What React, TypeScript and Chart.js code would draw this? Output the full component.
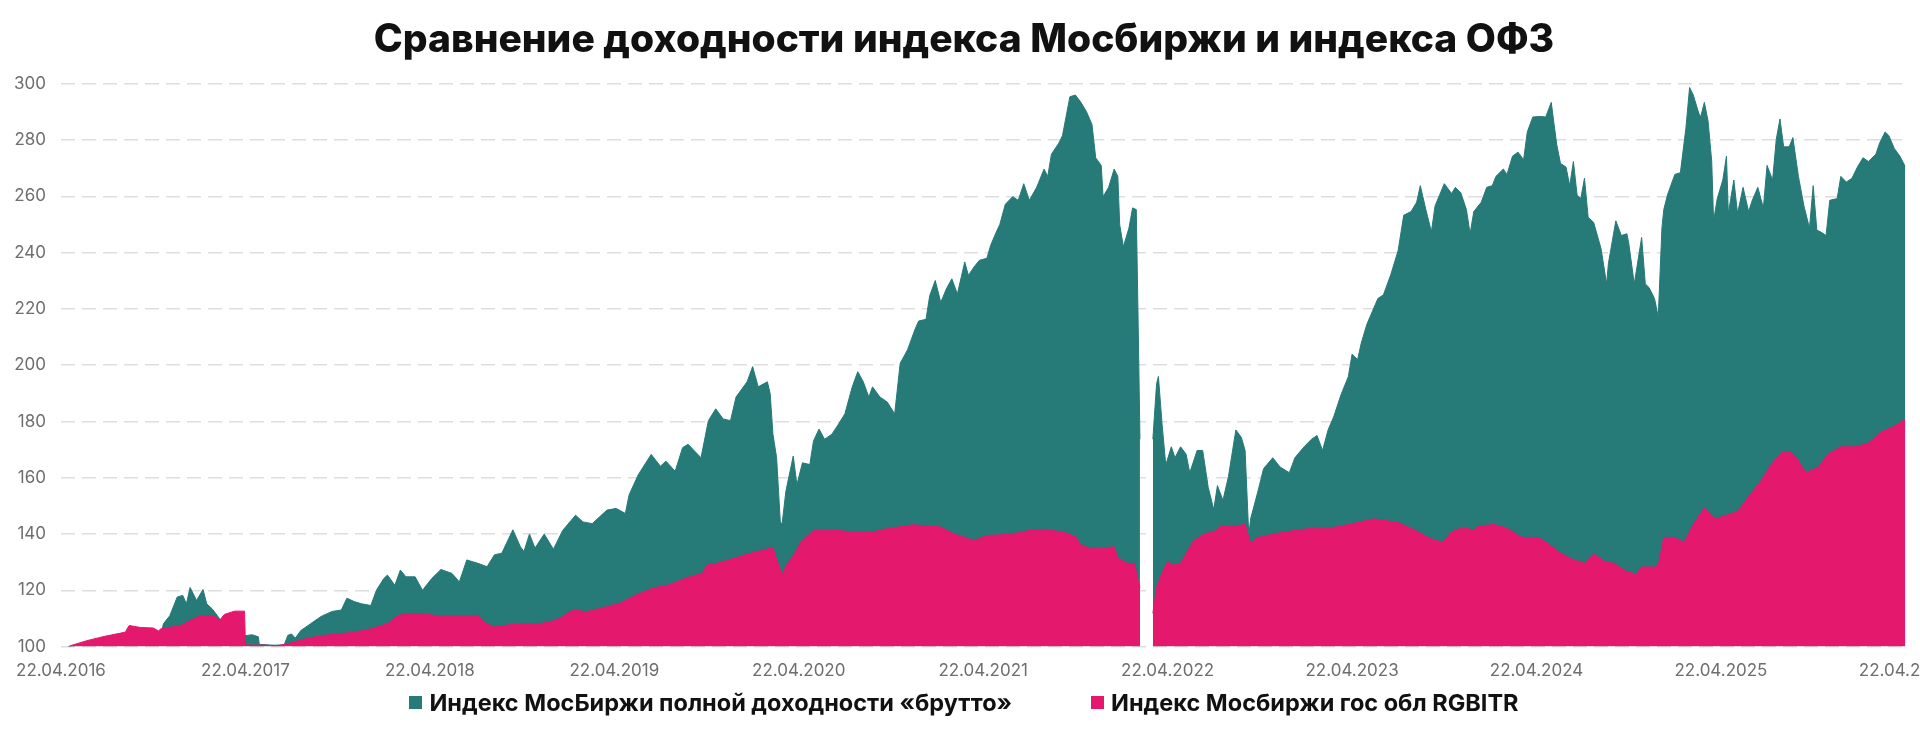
import { useEffect, useRef } from "react";
import { Chart, registerables } from "chart.js";

Chart.register(...registerables);

// x values are years since 22.04.2016
const tickLabels = [
  "22.04.2016", "22.04.2017", "22.04.2018", "22.04.2019", "22.04.2020", "22.04.2021",
  "22.04.2022", "22.04.2023", "22.04.2024", "22.04.2025", "22.04.2026",
];

const seriesNames = [
  "Индекс МосБиржи полной доходности «брутто»",
  "Индекс Мосбиржи гос обл RGBITR",
];

const chartTitle = "Сравнение доходности индекса Мосбиржи и индекса ОФЗ";

const tealDates = [
  0.04, 0.2, 0.35, 0.5, 0.545, 0.555, 0.59, 0.63, 0.66, 0.68, 0.7, 0.735, 0.77, 0.79, 0.82, 0.86, 0.92, 0.99,
  1.0, 1.035, 1.07, 1.075, 1.15, 1.21, 1.23, 1.25, 1.27, 1.3, 1.34, 1.37, 1.41, 1.47, 1.52, 1.55, 1.59, 1.63,
  1.68, 1.71, 1.75, 1.77, 1.81, 1.84, 1.87, 1.92, 1.96,
  2.01, 2.06, 2.12, 2.16, 2.2, 2.26, 2.31, 2.35, 2.39, 2.45, 2.49, 2.51, 2.54, 2.57, 2.62, 2.67, 2.72, 2.79,
  2.83, 2.88, 2.96,
  3.01, 3.06, 3.08, 3.13, 3.2, 3.25, 3.28, 3.33, 3.37, 3.4, 3.47, 3.51, 3.55, 3.59, 3.63, 3.66, 3.72, 3.75,
  3.78, 3.83, 3.845, 3.86, 3.88, 3.9, 3.91, 3.93, 3.97, 3.99,
  4.02, 4.06, 4.08, 4.11, 4.14, 4.18, 4.21, 4.25, 4.29, 4.32, 4.35, 4.38, 4.4, 4.44, 4.48, 4.52, 4.55, 4.59,
  4.63, 4.65, 4.69, 4.71, 4.74, 4.77, 4.8, 4.83, 4.86, 4.9, 4.92, 4.95, 4.98,
  5.02, 5.04, 5.07, 5.09, 5.12, 5.16, 5.19, 5.22, 5.25, 5.29, 5.33, 5.35, 5.37, 5.41, 5.43, 5.47, 5.5, 5.53,
  5.56, 5.59, 5.61, 5.64, 5.65, 5.68, 5.71, 5.73, 5.74, 5.76, 5.79, 5.81, 5.83, 5.84, 5.85, 5.88, 5.92, 5.94,
  5.95, 5.97, 5.99,
  6.02, 6.04, 6.07, 6.1, 6.12, 6.16, 6.19, 6.22, 6.25, 6.27, 6.3, 6.33, 6.37, 6.4, 6.42, 6.44, 6.45, 6.49,
  6.52, 6.57, 6.61, 6.66, 6.69, 6.74, 6.78, 6.81, 6.84, 6.87, 6.9, 6.94, 6.98,
  7.0, 7.03, 7.05, 7.08, 7.14, 7.17, 7.21, 7.25, 7.28, 7.32, 7.35, 7.37, 7.4, 7.43, 7.45, 7.5, 7.54, 7.56,
  7.59, 7.62, 7.64, 7.66, 7.7, 7.73, 7.76, 7.78, 7.82, 7.84, 7.87, 7.9, 7.93, 7.95, 7.98,
  8.02, 8.05, 8.08, 8.09, 8.11, 8.13, 8.16, 8.18, 8.2, 8.22, 8.24, 8.26, 8.28, 8.31, 8.35, 8.38, 8.39, 8.43,
  8.46, 8.49, 8.5, 8.53, 8.57, 8.59, 8.61, 8.64, 8.66, 8.68, 8.69, 8.71, 8.75, 8.78, 8.81, 8.83, 8.85, 8.88,
  8.89, 8.91, 8.93, 8.95, 8.96, 8.98,
  9.01, 9.03, 9.04, 9.07, 9.09, 9.12, 9.15, 9.17, 9.2, 9.23, 9.25, 9.28, 9.3, 9.32, 9.34, 9.37, 9.39, 9.42,
  9.45, 9.48, 9.5, 9.52, 9.54, 9.57, 9.59, 9.63, 9.65, 9.68, 9.71, 9.74, 9.77, 9.8, 9.84, 9.86, 9.89, 9.91,
  9.94, 9.97, 10.0,
];

const tealValues = [
  100, 101.5, 103, 104.5, 105, 108.1, 111, 117.6, 118.2, 115.2, 121, 116.4, 120.3, 115.2, 113.4, 109.9, 106, 104,
  103.9, 104.2, 103.5, 100.8, 100.5, 100.6, 104, 104.5, 103, 105.7, 107.5, 108.9, 110.7, 112.5, 113, 117.2, 116, 115.2,
  114.6, 120, 124.2, 125.4, 121.8, 127.2, 124.8, 124.8, 120,
  124.2, 127.4, 126, 123, 130.8, 129.6, 128.4, 132.6, 133.2, 141.5, 135.6, 133.8, 140, 135, 140, 134.6, 141.3, 146.7,
  144.3, 143.7, 148.5,
  149.1, 147.3, 153.9, 161.1, 168.3, 164.1, 165.9, 162.3, 170.7, 171.9, 167.1, 180.3, 184.5, 180.9, 180.3, 188.7, 194.1, 199.5,
  192.3, 194.1, 189.9, 175.5, 167.1, 144.3, 143.7, 155.1, 167.7, 157.5,
  165.3, 164.7, 173.1, 177.3, 173.7, 175.5, 178.5, 182.7, 192.3, 197.7, 194.1, 188.7, 192.3, 188.7, 186.9, 182.7, 200.7, 205.5,
  212.7, 215.7, 216.3, 224.7, 230.1, 222.3, 227.1, 230.7, 225.3, 236.7, 231.9, 234.9, 237.3,
  238, 242.5, 247.2, 250, 257.2, 259.9, 258.6, 264.5, 258.6, 263.2, 269.7, 267.1, 275, 278.9, 281.6, 295.4, 296, 293.4,
  290.1, 285.5, 273.7, 271, 259.9, 263.2, 269.7, 267.1, 250, 242.1, 248.7, 255.9, 255.3, 215.8, 173.7, null, 173.7, 193.4,
  196, 178.9, 164.5,
  171, 167.1, 171, 168.4, 161.8, 169.7, 169.7, 156.6, 148.7, 157.2, 152, 160.5, 177, 174.3, 169.7, 139.5, 145.4, 155.3,
  163.2, 167.1, 163.8, 161.8, 167.1, 171, 173.7, 175, 169.7, 177, 181.6, 189.5, 196,
  203.9, 202, 207.9, 214.5, 223.7, 225, 232.2, 240.8, 253.3, 254.6, 257.9, 263.8, 255.3, 247.4, 256.6, 264.5, 261, 263.2,
  261.2, 255.3, 246.7, 254.6, 257.9, 263.2, 263.8, 267.1, 269.7, 267.8, 274.3, 275.7, 273, 282.9, 288.2,
  288.4, 288.2, 293.4, 288.2, 278.3, 271.7, 270.4, 263.8, 272.4, 260.5, 259.2, 266.4, 252.6, 250.7, 241.4, 228.9, 236.2, 251.3,
  246.1, 246.7, 243.4, 228.9, 245.4, 228.9, 227.6, 223.7, 217.1, 248.7, 255.3, 260.5, 267.8, 268.4, 284.2, 298.7, 296, 289.5,
  288.2, 293.4, 286.8, 272.4, 251.3, 259.2,
  265.8, 274.3, 253.9, 265.8, 253.9, 263.2, 254.6, 258.6, 263.2, 255.9, 271, 265.8, 280.3, 287.5, 277.6, 277.6, 280.9, 267.1,
  256.6, 248.7, 263.8, 248, 247.4, 246.1, 258.6, 259.2, 267.1, 265.1, 266.4, 270.4, 273.7, 272.4, 275, 278.9, 282.9, 281.6,
  277, 274.3, 270.5,
];

const pinkDates = [
  0.04, 0.06, 0.14, 0.233, 0.324, 0.35, 0.36, 0.37, 0.43, 0.5, 0.53, 0.54, 0.65, 0.72, 0.76, 0.83, 0.86, 0.885,
  0.94, 0.995,
  1.0, 1.1, 1.17, 1.23, 1.32, 1.41, 1.59, 1.68, 1.77, 1.82, 1.86, 1.95,
  2.04, 2.26, 2.3, 2.35, 2.46, 2.6, 2.685, 2.776, 2.85, 2.96,
  3.03, 3.12, 3.21, 3.3, 3.39, 3.48, 3.5, 3.57, 3.66, 3.75, 3.86, 3.88, 3.91, 3.94, 3.97,
  4.01, 4.08, 4.21, 4.3, 4.4, 4.48, 4.62, 4.77, 4.84, 4.95,
  5.02, 5.09, 5.16, 5.26, 5.35, 5.43, 5.5, 5.53, 5.58, 5.65, 5.71, 5.73, 5.78, 5.82, 5.84, 5.85, 5.88, 5.92,
  5.94, 5.97,
  6.0, 6.03, 6.07, 6.11, 6.14, 6.2, 6.25, 6.29, 6.36, 6.42, 6.45, 6.49, 6.58, 6.7, 6.79, 6.88, 6.98,
  7.12, 7.25, 7.34, 7.43, 7.49, 7.54, 7.59, 7.63, 7.66, 7.68, 7.77, 7.84, 7.92,
  8.01, 8.06, 8.12, 8.2, 8.26, 8.31, 8.37, 8.42, 8.48, 8.54, 8.57, 8.64, 8.66, 8.69, 8.75, 8.8, 8.85, 8.91,
  8.97,
  9.06, 9.09, 9.15, 9.22, 9.27, 9.33, 9.38, 9.41, 9.46, 9.53, 9.58, 9.65, 9.73, 9.8, 9.87, 9.94, 10.0,
];

const pinkValues = [
  100, 100.5, 102.1, 103.6, 104.8, 105.2, 106.5, 107.5, 106.8, 106.6, 105.5, 106.3, 107.5, 109.9, 111, 111, 109.3, 111.4,
  112.6, 112.6,
  100.6, 100.5, 100.3, 101, 102.7, 103.9, 105.1, 106.3, 108.1, 110.7, 111.7, 111.7,
  111, 111, 108.3, 107, 108, 108.2, 109.4, 113, 112.4, 114.2,
  115.4, 118.4, 120.8, 122, 124.4, 126.2, 128.9, 129.8, 131.6, 133.4, 135.2, 131, 125.6, 129.8, 132.2,
  137, 141.3, 141.3, 140.7, 140.7, 141.9, 143.3, 142.5, 140.1, 137.7,
  139.5, 139.7, 140.1, 141.4, 141.4, 140.8, 139.1, 136.2, 134.9, 134.9, 135.5, 131.6, 129.6, 129.6, 123.7, 121, null, 111.8,
  121.1, 126.3,
  130.3, 128.9, 129.6, 134.2, 137.5, 140.1, 140.8, 142.8, 142.8, 143.4, 136.8, 138.8, 140.1, 141.4, 142.1, 142.1, 143.4,
  145.4, 144.1, 141.4, 138.2, 137.1, 140.8, 142.1, 142.1, 141, 142.8, 143.4, 142.1, 138.8,
  138.8, 136.8, 133.6, 130.9, 129.6, 132.9, 130.3, 129.6, 127, 125.7, 128.3, 128.3, 128.9, 138.8, 138.8, 137.1, 143.4, 149.3,
  145.4,
  147.4, 148, 153.3, 159.2, 164.5, 169.1, 169.1, 167.1, 161.8, 163.8, 168.4, 171, 171, 172.4, 176.3, 178.3, 180.9,
];

const TEAL = "#267a78";
const PINK = "#e4186d";
const seriesColors = [TEAL, PINK];

function toPoints(dates: number[], values: (number | null)[]) {
  return dates.map((x, i) => ({ x, y: values[i] }));
}

export default function App() {
  const canvasRef = useRef<HTMLCanvasElement | null>(null);

  useEffect(() => {
    if (!canvasRef.current) return;
    Chart.defaults.font.family = "Inter, 'Noto Sans', sans-serif";
    const chart = new Chart(canvasRef.current, {
      type: "line",
      data: {
        datasets: [
          {
            label: seriesNames[0],
            data: toPoints(tealDates, tealValues),
            backgroundColor: TEAL,
            borderColor: TEAL,
            borderWidth: 1,
            pointRadius: 0,
            pointHoverRadius: 0,
            fill: "start",
            tension: 0,
            spanGaps: false,
            order: 2,
          },
          {
            label: seriesNames[1],
            data: toPoints(pinkDates, pinkValues),
            backgroundColor: PINK,
            borderColor: PINK,
            borderWidth: 1,
            pointRadius: 0,
            pointHoverRadius: 0,
            fill: "start",
            tension: 0,
            spanGaps: false,
            order: 1,
          },
        ],
      },
      options: {
        responsive: true,
        maintainAspectRatio: false,
        animation: false,
        events: [],
        layout: { padding: { left: -25, right: 13, top: 0, bottom: 39 } },
        plugins: {
          legend: { display: false },
          tooltip: { enabled: false },
          title: {
            display: true,
            text: chartTitle,
            color: "#111111",
            font: { family: "Inter", size: 39, weight: "800" as any },
            padding: { top: 17, bottom: 20 },
          },
        },
        scales: {
          x: {
            type: "linear",
            min: 0,
            max: 10,
            grid: { display: false, drawTicks: false },
            border: { display: false },
            ticks: {
              stepSize: 1,
              autoSkip: false,
              maxRotation: 0,
              padding: 14,
              color: "#6e6e6e",
              font: { family: "Inter", size: 17 },
              callback: (v: any) => tickLabels[Math.round(Number(v))] ?? "",
            },
          },
          y: {
            min: 100,
            max: 300,
            afterFit: (scale: any) => {
              scale.width = 86;
            },
            grid: { color: "#dedede", lineWidth: 1.5, drawTicks: false },
            border: { display: false, dash: [14, 7] },
            ticks: {
              stepSize: 20,
              padding: 15,
              color: "#6e6e6e",
              font: { family: "Inter", size: 17 },
            },
          },
        },
      },
    });
    return () => chart.destroy();
  }, []);

  return (
    <div style={{ position: "relative", width: 1966, height: 734, background: "#fff" }}>
      <style>{`html,body{margin:0;padding:0;overflow:hidden;background:#fff;}`}</style>
      <div style={{ position: "absolute", left: 0, top: 0, width: 1966, height: 734 }}>
        <canvas ref={canvasRef} />
      </div>
      <div
        style={{
          position: "absolute",
          left: 0,
          top: 686,
          width: 1928,
          height: 32,
          display: "flex",
          justifyContent: "center",
          alignItems: "center",
          gap: 79,
          fontFamily: "Inter, 'Noto Sans', sans-serif",
          fontWeight: 700,
          fontSize: 23.5,
          color: "#111",
          whiteSpace: "nowrap",
        }}
      >
        {seriesNames.map((name, i) => (
          <div key={name} style={{ display: "flex", alignItems: "center" }}>
            <span
              style={{
                display: "inline-block",
                width: 13,
                height: 13,
                background: seriesColors[i],
                marginRight: 7,
              }}
            />
            <span>{name}</span>
          </div>
        ))}
      </div>
    </div>
  );
}
